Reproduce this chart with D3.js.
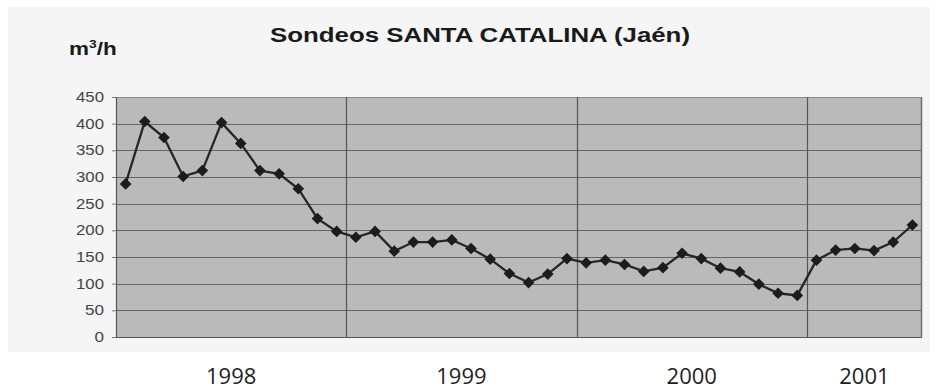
<!DOCTYPE html>
<html>
<head>
<meta charset="utf-8">
<script src="https://cdn.jsdelivr.net/npm/d3@7"></script>
<style>
html,body{margin:0;padding:0;background:#ffffff;}
svg{display:block;}
</style>
</head>
<body>
<svg id="chart" width="938" height="390"></svg>
<script>
const title = "Sondeos SANTA CATALINA (Jaén)";
const years = ["1998", "1999", "2000", "2001"];
const monthsPerYear = [12, 12, 12, 6];
const values = [
  287, 404, 374, 301, 312, 402, 363, 312, 306, 278, 222, 198,
  187, 198, 161, 178, 178, 182, 166, 146, 119, 102, 118, 147,
  139, 144, 136, 123, 130, 157, 147, 129, 122, 99, 82, 78,
  144, 163, 166, 162, 178, 210
];
const yTicks = [0, 50, 100, 150, 200, 250, 300, 350, 400, 450];

const svg = d3.select("#chart");
const plot = {left: 116, right: 922, top: 97, bottom: 337};

// chart area background
svg.append("rect").attr("x", 8).attr("y", 7).attr("width", 922).attr("height", 345)
  .attr("fill", "#f5f5f5");

const idx = d3.range(values.length);
const x = d3.scaleBand().domain(idx).range([plot.left, plot.right]).padding(0);
const y = d3.scaleLinear().domain([0, 450]).range([plot.bottom, plot.top]);

// plot background
svg.append("rect").attr("x", plot.left).attr("y", plot.top)
  .attr("width", plot.right - plot.left).attr("height", plot.bottom - plot.top)
  .attr("fill", "#bababa");

// horizontal gridlines
svg.append("g").selectAll("line").data(yTicks.filter(d => d > 0)).join("line")
  .attr("x1", plot.left).attr("x2", plot.right)
  .attr("y1", d => Math.round(y(d)) + 0.5).attr("y2", d => Math.round(y(d)) + 0.5)
  .attr("stroke", d => d === 450 ? "#8a8a8a" : "#646464").attr("stroke-width", 1.2);

// year boundaries
const starts = [];
let acc = 0;
monthsPerYear.forEach(m => { starts.push(acc); acc += m; });
const boundaries = starts.slice(1);
svg.append("g").selectAll("line").data(boundaries).join("line")
  .attr("x1", d => Math.round(x(d)) + 0.5).attr("x2", d => Math.round(x(d)) + 0.5)
  .attr("y1", plot.top).attr("y2", plot.bottom)
  .attr("stroke", "#555").attr("stroke-width", 1.2);

// right border
svg.append("line").attr("x1", plot.right - 0.5).attr("x2", plot.right - 0.5)
  .attr("y1", plot.top).attr("y2", plot.bottom).attr("stroke", "#6e6e6e").attr("stroke-width", 1.5);

// y axis
const yAxis = d3.axisLeft(y).tickValues(yTicks).tickSize(4).tickPadding(8);
const gy = svg.append("g").attr("transform", `translate(${plot.left},0)`).call(yAxis);
gy.select(".domain").attr("stroke", "#555").attr("stroke-width", 1.2);
gy.selectAll(".tick line").attr("stroke", "#777");
gy.selectAll(".tick text")
  .attr("font-family", "'Liberation Sans', Arial, sans-serif")
  .attr("font-size", 14).attr("fill", "#444")
  .attr("textLength", 28).attr("lengthAdjust", "spacingAndGlyphs")
  .each(function(d){ if (String(d).length === 2) d3.select(this).attr("textLength", 19); if (String(d).length === 1) d3.select(this).attr("textLength", 9.5); });

// x axis line
svg.append("line").attr("x1", plot.left).attr("x2", plot.right)
  .attr("y1", plot.bottom + 0.5).attr("y2", plot.bottom + 0.5)
  .attr("stroke", "#555").attr("stroke-width", 1.2);

// year labels
svg.append("g").selectAll("text").data(years).join("text")
  .attr("x", (d, i) => (x(starts[i]) + x(starts[i] + monthsPerYear[i] - 1) + x.bandwidth()) / 2)
  .attr("y", 384)
  .attr("text-anchor", "middle")
  .attr("font-family", "'Open Sans', 'Noto Sans', sans-serif")
  .attr("font-size", 22).attr("fill", "#1e1e1e")
  .text(d => d);

// line
const line = d3.line().x((d, i) => x(i) + x.bandwidth() / 2).y(d => y(d));
svg.append("path").datum(values).attr("d", line)
  .attr("fill", "none").attr("stroke", "#262626").attr("stroke-width", 2.3);

// markers
const sym = d3.symbol().type(d3.symbolSquare).size(68);
svg.append("g").selectAll("path").data(values).join("path")
  .attr("d", sym)
  .attr("transform", (d, i) => `translate(${x(i) + x.bandwidth() / 2},${y(d)}) rotate(45)`)
  .attr("fill", "#1c1c1c");

// title
svg.append("text").attr("x", 480).attr("y", 42).attr("text-anchor", "middle")
  .attr("font-family", "'Liberation Sans', Arial, sans-serif").attr("font-weight", "bold")
  .attr("font-size", 21).attr("fill", "#1a1a1a")
  .attr("textLength", 420).attr("lengthAdjust", "spacingAndGlyphs")
  .text(title);

// unit label
const unit = svg.append("text").attr("x", 69).attr("y", 55)
  .attr("font-family", "'Liberation Sans', Arial, sans-serif").attr("font-weight", "bold")
  .attr("font-size", 18).attr("fill", "#1a1a1a");
unit.append("tspan").text("m");
unit.append("tspan").attr("dy", -7).attr("font-size", 11).text("3");
unit.append("tspan").attr("dy", 7).text("/h");
unit.attr("transform", "translate(69,0) scale(1.25,1) translate(-69,0)");
</script>
</body>
</html>
